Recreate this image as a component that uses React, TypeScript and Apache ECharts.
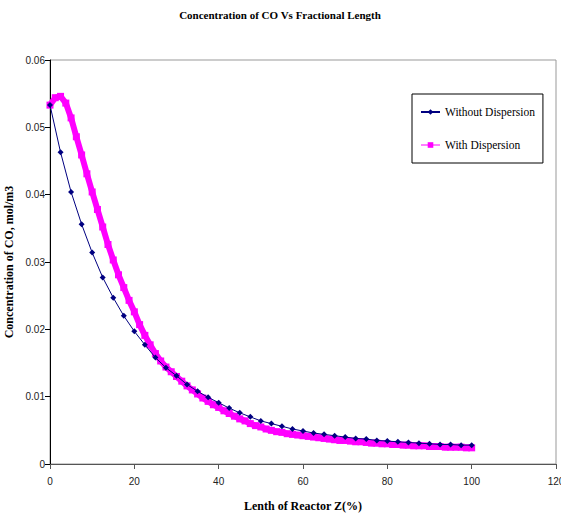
import React, { useEffect, useRef } from "react";
import * as echarts from "echarts";

const withoutX: number[] = [
  0, 2.5, 5, 7.5, 10, 12.5, 15, 17.5, 20, 22.5, 25, 27.5, 30, 32.5, 35, 37.5, 40,
  42.5, 45, 47.5, 50, 52.5, 55, 57.5, 60, 62.5, 65, 67.5, 70, 72.5, 75, 77.5, 80,
  82.5, 85, 87.5, 90, 92.5, 95, 97.5, 100,
];
const withoutDispersion: number[] = [
  0.0533, 0.0463, 0.0404, 0.0356, 0.0314, 0.0277, 0.0247, 0.022, 0.0197, 0.0177,
  0.0158, 0.0143, 0.0131, 0.0118, 0.0108, 0.0099, 0.0091, 0.0083, 0.0076, 0.007,
  0.0064, 0.006, 0.0056, 0.0052, 0.0049, 0.0046, 0.0044, 0.0042, 0.004, 0.0038,
  0.0037, 0.0035, 0.0034, 0.0033, 0.0032, 0.0031, 0.003, 0.0029, 0.0029, 0.0028,
  0.0028,
];

const withX: number[] = [
  0, 1.25, 2.5, 3.75, 5, 6.25, 7.5, 8.75, 10, 11.25, 12.5, 13.75, 15, 16.25, 17.5,
  18.75, 20, 21.25, 22.5, 23.75, 25, 26.25, 27.5, 28.75, 30, 31.25, 32.5, 33.75,
  35, 36.25, 37.5, 38.75, 40, 41.25, 42.5, 43.75, 45, 46.25, 47.5, 48.75, 50,
  51.25, 52.5, 53.75, 55, 56.25, 57.5, 58.75, 60, 61.25, 62.5, 63.75, 65, 66.25,
  67.5, 68.75, 70, 71.25, 72.5, 73.75, 75, 76.25, 77.5, 78.75, 80, 81.25, 82.5,
  83.75, 85, 86.25, 87.5, 88.75, 90, 91.25, 92.5, 93.75, 95, 96.25, 97.5, 98.75,
  100,
];
const withDispersion: number[] = [
  0.0533, 0.0544, 0.0546, 0.0536, 0.0514, 0.0486, 0.0459, 0.0431, 0.0404, 0.0378,
  0.0352, 0.0326, 0.0303, 0.0281, 0.0262, 0.0243, 0.0226, 0.0207, 0.0191, 0.0177,
  0.0164, 0.0153, 0.0144, 0.0137, 0.013, 0.0123, 0.0116, 0.011, 0.0104, 0.0098,
  0.0093, 0.0088, 0.0084, 0.0079, 0.0075, 0.0071, 0.0067, 0.0064, 0.006, 0.0057,
  0.0055, 0.0052, 0.005, 0.0048, 0.0047, 0.0045, 0.0044, 0.0043, 0.0042, 0.0041,
  0.004, 0.0039, 0.0038, 0.0037, 0.0036, 0.0035, 0.0035, 0.0034, 0.0033, 0.0033,
  0.0032, 0.0031, 0.0031, 0.003, 0.003, 0.0029, 0.0029, 0.0028, 0.0028, 0.0027,
  0.0027, 0.0027, 0.0026, 0.0026, 0.0026, 0.0025, 0.0025, 0.0025, 0.0025, 0.0024,
  0.0024,
];

const titleText = "Concentration of CO Vs Fractional Length";
const xAxisName = "Lenth of Reactor Z(%)";
const yAxisName = "Concentration of CO, mol/m3";
const seriesNames = ["Without Dispersion", "With Dispersion"];

const serif = "'Liberation Serif', 'DejaVu Serif', serif";
const sans = "'Liberation Sans', Arial, sans-serif";

export default function App() {
  const ref = useRef<HTMLDivElement>(null);
  useEffect(() => {
    if (!ref.current) return;
    const chart = echarts.init(ref.current, undefined, { renderer: "svg" });
    chart.setOption({
      animation: false,
      backgroundColor: "#ffffff",
      title: {
        text: titleText,
        left: 275,
        textAlign: "center",
        top: 4,
        textStyle: { fontFamily: serif, fontWeight: "bold", fontSize: 11, color: "#000" },
      },
      legend: {
        orient: "vertical",
        left: 412,
        top: 94,
        padding: [12, 8, 12, 8],
        itemGap: 21,
        itemWidth: 19,
        itemHeight: 7,
        borderColor: "#000",
        borderWidth: 1,
        backgroundColor: "#fff",
        textStyle: { fontFamily: serif, fontSize: 11.5, color: "#000" },
        data: [
          { name: seriesNames[0] },
          { name: seriesNames[1], lineStyle: { width: 1 } },
        ],
      },
      grid: {
        left: 50,
        top: 60,
        right: 5,
        bottom: 49,
        containLabel: false,
        outerBoundsMode: "none",
        show: true,
        borderColor: "#999",
        borderWidth: 1,
      },
      xAxis: {
        type: "value",
        min: 0,
        max: 120,
        interval: 20,
        name: xAxisName,
        nameLocation: "middle",
        nameGap: 36,
        nameTextStyle: { fontFamily: serif, fontWeight: "bold", fontSize: 12, color: "#000" },
        axisLine: { lineStyle: { color: "#555", width: 1 } },
        axisTick: { inside: false, length: 5, lineStyle: { color: "#555" } },
        axisLabel: { fontFamily: sans, fontSize: 10, color: "#222", margin: 12 },
        splitLine: { show: false },
      },
      yAxis: {
        type: "value",
        min: 0,
        max: 0.06,
        interval: 0.01,
        name: yAxisName,
        nameLocation: "middle",
        nameGap: 32,
        nameTextStyle: { fontFamily: serif, fontWeight: "bold", fontSize: 12, color: "#000" },
        axisLine: { show: true, lineStyle: { color: "#000", width: 1 } },
        axisTick: { show: true, inside: false, length: 5, lineStyle: { color: "#000" } },
        axisLabel: { fontFamily: sans, fontSize: 10, color: "#222", margin: 5 },
        splitLine: { show: false },
      },
      series: [
        {
          name: seriesNames[1],
          type: "line",
          data: withX.map((x, i) => [x, withDispersion[i]]),
          symbol: "rect",
          symbolSize: 7,
          showAllSymbol: true,
          lineStyle: { color: "#ff00ff", width: 6 },
          itemStyle: { color: "#ff00ff" },
          z: 2,
        },
        {
          name: seriesNames[0],
          type: "line",
          data: withoutX.map((x, i) => [x, withoutDispersion[i]]),
          symbol: "diamond",
          symbolSize: 6,
          showAllSymbol: true,
          lineStyle: { color: "#000080", width: 1 },
          itemStyle: { color: "#000080" },
          z: 3,
        },
      ],
    });
    return () => chart.dispose();
  }, []);
  return (
    <div
      ref={ref}
      style={{ position: "fixed", left: 0, top: 0, width: 561, height: 513, background: "#fff" }}
    />
  );
}
